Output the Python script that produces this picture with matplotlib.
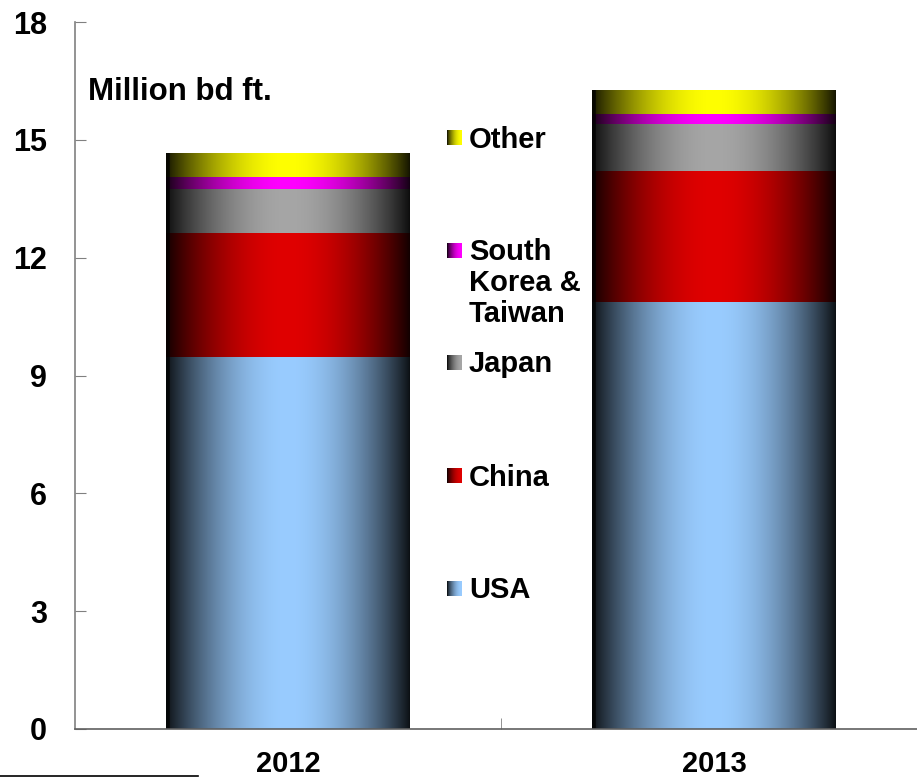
# Stacked bar chart of softwood lumber export volumes by destination,
# 2012 vs 2013, drawn with horizontal "cylinder" gradients on each bar.

import numpy as np
import matplotlib.pyplot as plt
from matplotlib.lines import Line2D

plt.rcParams['font.family'] = ['Liberation Sans', 'DejaVu Sans']
plt.rcParams['font.weight'] = 'bold'

years = ['2012', '2013']
usa = [9.46, 10.86]
china = [3.18, 3.35]
japan = [1.12, 1.20]
korea_taiwan = [0.30, 0.25]
other = [0.61, 0.59]

series = [usa, china, japan, korea_taiwan, other]
series_names = ['USA', 'China', 'Japan', 'South\nKorea &\nTaiwan', 'Other']
series_colors = ['#99CCFF', '#E00000', '#A6A6A6', '#FF00FF', '#FFFF00']

W, H = 917, 779


def gradient(color, t0=0.0, t1=1.0, n=256):
    rgb = np.array(plt.matplotlib.colors.to_rgb(color))
    t = np.linspace(t0, t1, n)
    f = 0.08 + 0.92 * np.sin(np.pi * t) ** 0.9
    f[t < 0.015] = 0.03
    return (f[:, None] * rgb[None, :])[None, :, :]


fig = plt.figure(figsize=(W / 100, H / 100), dpi=100)
ax = fig.add_axes([75 / W, 1 - 729 / H, 852.5 / W, 707 / H])

x = np.arange(len(years))
bottom = np.zeros(len(years))
for vals, color in zip(series, series_colors):
    bars = ax.bar(x, vals, width=0.572, bottom=bottom, color='none',
                  edgecolor='none')
    for rect in bars:
        x0, y0 = rect.get_x(), rect.get_y()
        ax.imshow(gradient(color), extent=[x0, x0 + rect.get_width(),
                                           y0, y0 + rect.get_height()],
                  aspect='auto', interpolation='bilinear', zorder=2)
    bottom += np.array(vals)

ax.set_xlim(-0.5, 1.5)
ax.set_ylim(0, 18)
ax.set_yticks(np.arange(0, 19, 3))
ax.set_xticks(x)
ax.set_xticklabels(years)
ax.set_xticks([0.5], minor=True)

for side in ['top', 'right']:
    ax.spines[side].set_visible(False)
ax.spines['left'].set_color('#808080')
ax.spines['bottom'].set_color('#606060')
for side in ['left', 'bottom']:
    ax.spines[side].set_linewidth(1.2)

ax.tick_params(axis='y', direction='in', length=8, color='#808080',
               labelsize=22, pad=20)
ax.tick_params(axis='x', which='major', length=0, labelsize=21, pad=15)
ax.tick_params(axis='x', which='minor', direction='in', length=8,
               color='#808080')

fig.text(88 / W, 1 - 100 / H, 'Million bd ft.', fontsize=22.5,
         fontweight='bold', va='baseline')

# legend: gradient squares with labels stacked in the gap between bars
baselines = [598, 485, 372, 260, 147]
for name, color, base in zip(series_names, series_colors, baselines):
    lax = fig.add_axes([447 / W, 1 - (base - 2) / H, 15 / W, 15 / H])
    lax.imshow(gradient(color, 0.0, 0.5), aspect='auto',
               interpolation='bilinear')
    lax.axis('off')
    # top of the first line sits ~0.19 em above the cap height
    fig.text(469 / W, 1 - (base - 21.5) / H, name, fontsize=21,
             fontweight='bold', va='top', linespacing=1.13)

fig.add_artist(Line2D([0, 198 / W], [1 - 776 / H] * 2, color='black',
                      linewidth=1.2))

fig.savefig('out.png', dpi=100)
